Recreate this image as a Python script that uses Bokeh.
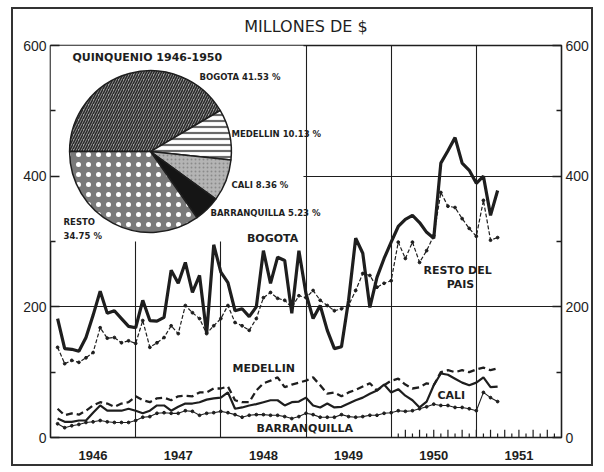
import numpy as np
from bokeh.plotting import figure
from bokeh.models import FixedTicker, LinearAxis, CustomJSTickFormatter
from bokeh.core.properties import value
from bokeh.embed import file_html
from bokeh.resources import INLINE

# ---------------- data (millones de $, monthly) ----------------
month_index = np.arange(63)
x_months = 1946 + (month_index + 1) / 12.0

bogota = [182, 136, 135, 132, 153, 187, 224, 190, 194, 182,
          170, 168, 210, 179, 178, 184, 256, 236, 268, 222,
          248, 159, 295, 253, 237, 194, 197, 185, 200, 286,
          236, 276, 271, 190, 286, 220, 182, 202, 164, 136,
          139, 210, 305, 282, 199, 245, 274, 299, 323, 334,
          340, 329, 314, 305, 420, 439, 459, 420, 409, 389,
          400, 340, 378]
resto = [138, 113, 118, 115, 122, 130, 168, 152, 153, 145,
         148, 144, 179, 138, 145, 153, 171, 159, 202, 191,
         182, 159, 171, 182, 202, 176, 171, 164, 182, 214,
         222, 213, 210, 199, 217, 214, 225, 210, 202, 194,
         197, 202, 225, 251, 248, 230, 236, 240, 299, 274,
         299, 268, 286, 309, 375, 354, 352, 335, 320, 308,
         363, 302, 306]
medellin = [44, 34, 37, 35, 41, 49, 54, 52, 47, 52,
            54, 63, 57, 54, 60, 61, 57, 63, 64, 63,
            69, 69, 75, 75, 78, 57, 54, 54, 72, 83,
            87, 92, 77, 81, 84, 87, 92, 80, 67, 69,
            63, 69, 73, 78, 83, 72, 80, 87, 90, 81,
            75, 77, 83, 80, 100, 103, 100, 103, 100, 104,
            107, 103, 106]
cali = [29, 24, 24, 26, 26, 38, 49, 41, 41, 41,
        44, 41, 37, 41, 49, 49, 41, 47, 52, 52,
        54, 58, 60, 61, 69, 44, 46, 49, 51, 54,
        57, 57, 49, 54, 55, 61, 49, 46, 52, 46,
        47, 52, 57, 61, 67, 72, 81, 69, 74, 64,
        57, 46, 55, 80, 98, 96, 90, 84, 80, 84,
        92, 77, 78]
barranquilla = [21, 15, 18, 20, 23, 24, 26, 24, 23, 23,
                23, 26, 31, 32, 37, 38, 37, 37, 41, 40,
                34, 37, 38, 40, 38, 35, 31, 34, 35, 35,
                34, 34, 32, 29, 32, 37, 35, 31, 31, 31,
                35, 32, 31, 32, 34, 34, 37, 38, 41, 40,
                41, 44, 47, 51, 49, 49, 46, 46, 44, 41,
                69, 61, 55]

years = [1946, 1947, 1948, 1949, 1950, 1951]
y_ticks = [0, 200, 400, 600]
y_minor = [100, 300, 500]

pie_names = ["BOGOTA", "MEDELLIN", "CALI", "BARRANQUILLA", "RESTO"]
pie_shares = [41.53, 10.13, 8.36, 5.23, 34.75]

INK = "#1e1e1e"

p = figure(width=582, height=459, x_range=(1946, 1952), y_range=(0, 600),
           output_backend="svg", toolbar_location=None,
           min_border_left=37, min_border_right=34, min_border_top=36,
           min_border_bottom=31, background_fill_color="white",
           border_fill_color="white")
p.styles = {"border": "2px solid #333", "margin-left": "11px", "margin-top": "7px"}

p.title.text = "MILLONES DE $"
p.title.align = "center"
p.title.vertical_align = "top"
p.title.text_font = "DejaVu Sans"
p.title.text_font_size = "16px"
p.title.text_font_style = "normal"
p.title.text_color = INK
p.title.standoff = 15

p.outline_line_color = INK
p.outline_line_width = 1.6
p.outline_line_alpha = 1

# x axis: year labels centred in each year
p.xaxis.ticker = FixedTicker(ticks=[yr + 0.5 for yr in years])
p.xaxis.formatter = CustomJSTickFormatter(code="return String(Math.floor(tick));")
p.xaxis.major_tick_line_color = None
p.xaxis.minor_tick_line_color = None
p.xaxis.axis_line_color = None
p.xaxis.major_label_standoff = 7
p.xaxis.major_label_text_font = "Liberation Sans"
p.xaxis.major_label_text_font_style = "bold"
p.xaxis.major_label_text_font_size = "13px"
p.xaxis.major_label_text_color = INK

def style_y(ax):
    ax.ticker = FixedTicker(ticks=y_ticks, minor_ticks=y_minor)
    ax.major_tick_in = 9
    ax.major_tick_out = 0
    ax.minor_tick_in = 5
    ax.minor_tick_out = 0
    ax.major_tick_line_color = INK
    ax.minor_tick_line_color = INK
    ax.major_tick_line_width = 1.3
    ax.minor_tick_line_width = 1.3
    ax.axis_line_color = None
    ax.major_label_standoff = 4
    ax.major_label_text_font = "Liberation Sans"
    ax.major_label_text_font_size = "14px"
    ax.major_label_text_color = INK

style_y(p.yaxis[0])
ra = LinearAxis()
style_y(ra)
p.add_layout(ra, "right")

p.xgrid.ticker = FixedTicker(ticks=years[1:])
p.ygrid.ticker = FixedTicker(ticks=[200, 400])
p.xgrid.grid_line_color = INK
p.ygrid.grid_line_color = INK
p.xgrid.grid_line_width = 1.1
p.ygrid.grid_line_width = 1.1

# white inset area for the pie
p.quad(left=[1946], right=[1948.97], bottom=[300], top=[600],
       fill_color="white", line_color=None)

# monthly ticks 1950-1951
k = np.arange(1, 24)
tick_x = 1950 + k / 12.0
tick_h = np.where(k % 2 == 0, 12, 6)
p.segment(x0=tick_x, y0=np.zeros_like(tick_x), x1=tick_x, y1=tick_h,
          line_color=INK, line_width=1.2)

# pie
shares = np.array(pie_shares)
cum = np.r_[0, np.cumsum(shares)] / 100.0 * 2 * np.pi
ends = np.pi - cum[:-1]
starts = np.pi - cum[1:]
pie_x, pie_y, pie_r = 1947.174, 437.7, 0.95
styles = [
    dict(fill_color="#a0a0a0", hatch_pattern="/", hatch_color="#2a2a2a", hatch_scale=5, hatch_weight=1.6),
    dict(fill_color="white", hatch_pattern="-", hatch_color="#6a6a6a", hatch_scale=6, hatch_weight=2.2),
    dict(fill_color="#b4b4b4", hatch_pattern=".", hatch_color="#8a8a8a", hatch_scale=4, hatch_weight=1),
    dict(fill_color="#151515"),
    dict(fill_color="#7a7a7a", hatch_pattern=".", hatch_color="white", hatch_scale=10, hatch_weight=2.5),
]
for i in range(len(pie_shares)):
    p.wedge(x=[pie_x], y=[pie_y], radius=pie_r, start_angle=[starts[i]],
            end_angle=[ends[i]], line_color=INK, line_width=1.5, **styles[i])

# series
p.line(x_months, barranquilla, line_color=INK, line_width=1.1)
p.scatter(x_months, barranquilla, size=2.8, color=INK)
p.line(x_months, cali, line_color=INK, line_width=2.2)
p.line(x_months, medellin, line_color=INK, line_width=2.3, line_dash="7 4")
p.line(x_months, resto, line_color=INK, line_width=1.2, line_dash="4 2")
p.scatter(x_months, resto, size=2.8, color=INK)
p.line(x_months, bogota, line_color=INK, line_width=3.2)

def txt(x, y, s, size="11px", align="left", font="DejaVu Sans"):
    p.text(x=[x], y=[y], text=[s], text_font=value(font), text_font_style="bold",
           text_font_size=size, text_align=align, text_baseline="middle",
           text_color=INK)

# pie texts
txt(1946.258, 581, "QUINQUENIO 1946-1950", "11px")
txt(1947.749, 552, "BOGOTA 41.53 %", "8.5px")
txt(1948.125, 464, "MEDELLIN 10.13 %", "8.5px")
txt(1948.125, 387, "CALI 8.36 %", "8.5px")
txt(1947.879, 344, "BARRANQUILLA 5.23 %", "8.5px")
txt(1946.153, 330, "RESTO", "8.5px")
txt(1946.153, 309, "34.75 %", "8.5px")

# series labels
txt(1948.607, 305, "BOGOTA", "11px", "center")
txt(1950.379, 256, "RESTO DEL", "11px")
txt(1950.814, 234, "PAIS", "11px", "center")
txt(1948.137, 106, "MEDELLIN", "11px")
txt(1950.544, 64, "CALI", "11px")
txt(1948.419, 14, "BARRANQUILLA", "11px")

open("out.html", "w").write(file_html(p, INLINE))
